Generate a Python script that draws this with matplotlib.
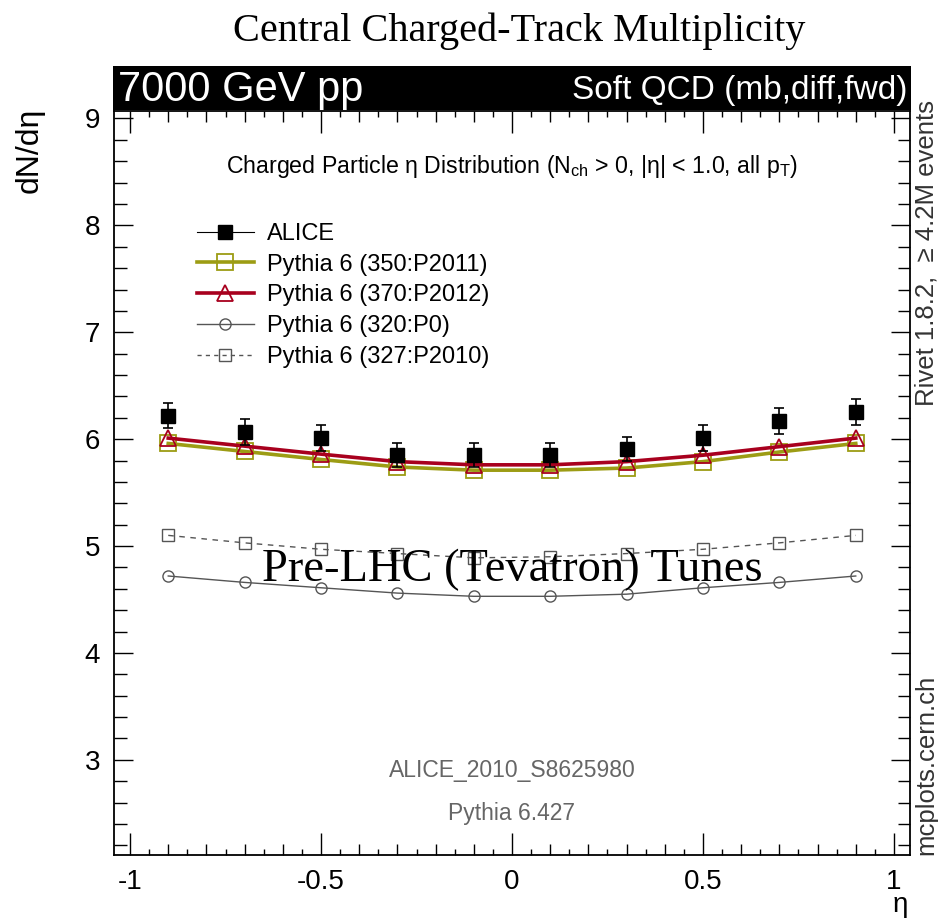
import matplotlib
matplotlib.use("Agg")
import matplotlib.pyplot as plt
from matplotlib.ticker import MultipleLocator, NullFormatter
from matplotlib.lines import Line2D
import numpy as np

eta = [-0.9, -0.7, -0.5, -0.3, -0.1, 0.1, 0.3, 0.5, 0.7, 0.9]
alice = [6.22, 6.07, 6.01, 5.85, 5.85, 5.85, 5.91, 6.01, 6.17, 6.255]
alice_err = [0.12, 0.12, 0.12, 0.11, 0.11, 0.11, 0.11, 0.12, 0.12, 0.12]
p2011 = [5.96, 5.885, 5.81, 5.74, 5.71, 5.71, 5.73, 5.79, 5.88, 5.96]
p2012 = [6.01, 5.935, 5.86, 5.79, 5.76, 5.76, 5.79, 5.85, 5.93, 6.01]
p0 = [4.72, 4.66, 4.61, 4.56, 4.53, 4.53, 4.55, 4.61, 4.66, 4.72]
p2010 = [5.10, 5.03, 4.97, 4.93, 4.89, 4.90, 4.93, 4.97, 5.03, 5.10]

labels = ["ALICE", "Pythia 6 (350:P2011)", "Pythia 6 (370:P2012)",
          "Pythia 6 (320:P0)", "Pythia 6 (327:P2010)"]
xtick_vals = [-1, -0.5, 0, 0.5, 1]
xtick_labels = ["-1", "-0.5", "0", "0.5", "1"]
ytick_vals = [3, 4, 5, 6, 7, 8, 9]
ytick_labels = ["3", "4", "5", "6", "7", "8", "9"]

SANS = "Liberation Sans"
SERIF = "Liberation Serif"
OLIVE = "#9c9c14"
RED = "#a8001e"
GRAY = "#555555"

plt.rcParams["mathtext.fontset"] = "custom"
plt.rcParams["mathtext.rm"] = SANS
plt.rcParams["mathtext.it"] = SANS

fig = plt.figure(figsize=(9.38, 9.21), dpi=100)
ax = fig.add_axes([114/938, 1-855/921, (910-114)/938, (855-111)/921])

ax.set_xlim(-1.042, 1.042)
ax.set_ylim(2.11, 9.07)

l2011, = ax.plot(eta, p2011, color=OLIVE, lw=2.6, marker="s", ms=11, mfc="none",
                 mec=OLIVE, mew=1.3, zorder=3)
l2012, = ax.plot(eta, p2012, color=RED, lw=2.6, marker="^", ms=12, mfc="none",
                 mec=RED, mew=1.3, zorder=4)
l0, = ax.plot(eta, p0, color=GRAY, lw=1.0, marker="o", ms=8, mfc="none",
              mec=GRAY, mew=1.0, zorder=3)
l2010, = ax.plot(eta, p2010, color=GRAY, lw=1.0, ls=(0, (4, 4)), marker="s", ms=8,
                 mfc="none", mec=GRAY, mew=1.0, zorder=3)
ax.errorbar(eta, alice, yerr=alice_err, fmt="s", color="black", ms=10,
            ecolor="black", elinewidth=1.2, capsize=3.5, capthick=1.2, zorder=5)

h_alice = Line2D([], [], color="black", lw=0.8, marker="s", ms=10, mfc="black", mec="black")
h_2010 = Line2D([], [], color=GRAY, lw=1.0, ls=(0, (3, 3)), marker="s", ms=8, mfc="none", mec=GRAY)
ax.legend([h_alice, l2011, l2012, l0, h_2010], labels, loc="upper left",
          bbox_to_anchor=((197-114)/796, 1-(223-111)/744), frameon=False,
          borderpad=0, borderaxespad=0, handlelength=2.4,
          handletextpad=0.55, labelspacing=0.37,
          prop={"family": SANS, "size": 17})

# ticks
ax.set_xticks(xtick_vals)
ax.set_xticklabels(xtick_labels)
ax.set_yticks(ytick_vals)
ax.set_yticklabels(ytick_labels)
ax.xaxis.set_minor_locator(MultipleLocator(0.1))
ax.yaxis.set_minor_locator(MultipleLocator(0.2))
ax.tick_params(which="both", direction="in", top=True, right=True, width=1.0, color="black")
ax.tick_params(axis="x", which="major", length=16, pad=10, labelsize=20)
ax.tick_params(axis="x", which="minor", length=8)
ax.tick_params(axis="y", which="major", length=14, pad=10, labelsize=20)
ax.tick_params(axis="y", which="minor", length=9)
for t in ax.get_xticklabels() + ax.get_yticklabels():
    t.set_family(SANS)
for s in ax.spines.values():
    s.set_linewidth(1.3)

fine = [round(v, 2) for v in np.arange(-1.05, 1.06, 0.1)]
for loc in ("bottom", "top"):
    sec = ax.secondary_xaxis(loc)
    sec.set_xticks(fine)
    sec.xaxis.set_major_formatter(NullFormatter())
    sec.tick_params(direction="in", length=4.5, width=1.0)
    sec.spines[loc].set_visible(False)

fig.text(900/938, 1-912/921, "η", ha="center", va="baseline", family=SANS, fontsize=20)
fig.text(30/938, 1-150/921, "dN/dη", rotation=90, ha="center", va="center",
         family=SANS, fontsize=23)

# title & band
fig.text(519/938, 1-31/921, "Central Charged-Track Multiplicity", ha="center", va="center",
         family=SERIF, fontsize=29)
band = fig.add_axes([113/938, 1-110/921, (911-113)/938, 44/921])
band.set_facecolor("black")
band.set_xticks([]); band.set_yticks([])
for s in band.spines.values():
    s.set_visible(False)
band.text(0.006, 0.45, "7000 GeV pp", color="white", family=SANS, fontsize=30,
          ha="left", va="center", transform=band.transAxes)
band.text(0.995, 0.45, "Soft QCD (mb,diff,fwd)", color="white", family=SANS, fontsize=24,
          ha="right", va="center", transform=band.transAxes)

# in-plot texts
ax.text(0.5, 1-(167-111)/744,
        "Charged Particle η Distribution (N$_{\\rm ch}$ > 0, |η| < 1.0, all p$_{\\rm T}$)",
        transform=ax.transAxes, ha="center", va="center", family=SANS, fontsize=16.7)
ax.text(0.5, 1-(570-111)/744, "Pre-LHC (Tevatron) Tunes", transform=ax.transAxes,
        ha="center", va="center", family=SERIF, fontsize=33.5, zorder=6)
ax.text(0.5, 1-(770-111)/744, "ALICE_2010_S8625980", transform=ax.transAxes,
        ha="center", va="center", family=SANS, fontsize=16.5, color="#666666")
ax.text(0.5, 1-(813-111)/744, "Pythia 6.427", transform=ax.transAxes,
        ha="center", va="center", family=SANS, fontsize=16.5, color="#666666")

fig.text(926/938, 1-100/921, "Rivet 1.8.2,  ≥ 4.2M events", rotation=90, ha="center", va="top",
         family=SANS, fontsize=18.5, color="#333333")
fig.text(926/938, 1-855/921, "mcplots.cern.ch", rotation=90, ha="center", va="bottom",
         family=SANS, fontsize=18.5, color="#333333")

fig.savefig("out.png", dpi=100)
